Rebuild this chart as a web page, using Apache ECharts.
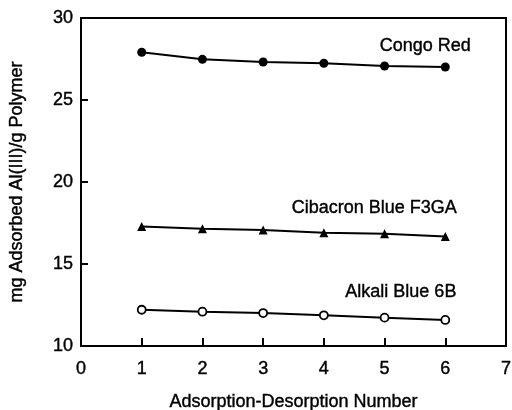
<!DOCTYPE html>
<html>
<head>
<meta charset="utf-8">
<script src="https://cdn.jsdelivr.net/npm/echarts@6/dist/echarts.min.js"></script>
<style>
  html, body { margin: 0; padding: 0; background: #fff; }
  #chart { width: 512px; height: 410px; }
</style>
</head>
<body>
<div id="chart"></div>
<script>
// Data
var cycles = [1, 2, 3, 4, 5, 6];
var congoRed = [27.91, 27.48, 27.32, 27.24, 27.07, 27.01];
var cibacronBlue = [17.28, 17.15, 17.08, 16.9, 16.85, 16.68];
var alkaliBlue = [12.21, 12.09, 12.01, 11.87, 11.73, 11.59];

var chart = echarts.init(document.getElementById('chart'));
var font = '"Liberation Sans", Arial, Helvetica, sans-serif';
var textStyle = {
    color: '#000', fontFamily: font, fontSize: 18,
    textBorderColor: '#000', textBorderWidth: 0.4
};

function pairs(values) {
    return cycles.map(function (c, i) { return [c, values[i]]; });
}

// series name shown next to the last point only
function makeSeries(name, values, symbol, size, fill, labelPos) {
    return {
        name: name,
        type: 'line',
        data: pairs(values),
        symbol: symbol,
        symbolSize: size,
        showAllSymbol: true,
        lineStyle: { color: '#000', width: 2 },
        itemStyle: { color: fill, borderColor: '#000', borderWidth: fill === '#fff' ? 1.8 : 0 },
        label: Object.assign({
            show: true,
            position: labelPos,
            align: 'right',
            verticalAlign: 'middle',
            formatter: function (p) {
                return p.dataIndex === cycles.length - 1 ? name : '';
            }
        }, textStyle),
        emphasis: { disabled: true },
        animation: false
    };
}

var option = {
    backgroundColor: '#fff',
    animation: false,
    grid: {
        left: 81, top: 18, right: 6, bottom: 64,
        outerBoundsMode: 'none',
        containLabel: false,
        show: true, borderColor: '#000', borderWidth: 2
    },
    xAxis: {
        type: 'value',
        min: 0, max: 7, interval: 1,
        name: 'Adsorption-Desorption Number',
        nameLocation: 'middle',
        nameGap: 47,
        nameTextStyle: textStyle,
        axisLine: { lineStyle: { color: '#000', width: 2 } },
        axisTick: { inside: true, length: 8, lineStyle: { color: '#000', width: 2 } },
        axisLabel: Object.assign({ margin: 14 }, textStyle),
        splitLine: { show: false }
    },
    yAxis: {
        type: 'value',
        min: 10, max: 30, interval: 5,
        name: 'mg Adsorbed Al(III)/g Polymer',
        nameLocation: 'middle',
        nameGap: 55,
        nameTextStyle: textStyle,
        axisLine: { lineStyle: { color: '#000', width: 2 } },
        axisTick: { inside: true, length: 7, lineStyle: { color: '#000', width: 2 } },
        axisLabel: Object.assign({ margin: 8 }, textStyle),
        splitLine: { show: false }
    },
    series: [
        makeSeries('Congo Red', congoRed, 'circle', 9, '#000', [30, -17]),
        makeSeries('Cibacron Blue F3GA', cibacronBlue, 'triangle', 9, '#000', [16, -24]),
        makeSeries('Alkali Blue 6B', alkaliBlue, 'circle', 8, '#fff', [16, -23])
    ]
};

chart.setOption(option);
</script>
</body>
</html>
